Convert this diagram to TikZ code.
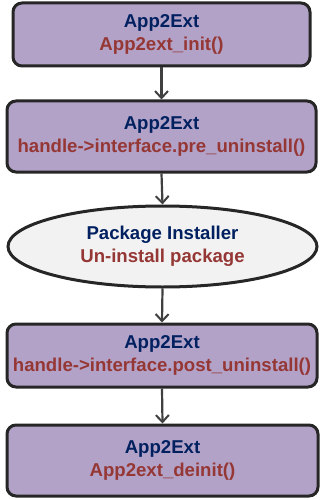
\documentclass[tikz,border=0pt]{standalone}
\usepackage{fontspec}
\setmainfont{Liberation Sans}
\usetikzlibrary{shapes.geometric,arrows.meta}
\definecolor{boxfill}{HTML}{B3A2C7}
\definecolor{ovalfill}{HTML}{F2F2F2}
\definecolor{edge}{HTML}{262626}
\definecolor{titleblue}{HTML}{002060}
\definecolor{callred}{HTML}{953735}
\definecolor{arrowgray}{HTML}{404040}
\tikzset{
  steptext/.style={inner sep=0pt, align=center, font=\bfseries\fontsize{18.6}{23}\selectfont},
  stepbox/.style={steptext, draw=edge, line width=3pt, fill=boxfill, rounded corners=9pt},
  oval/.style={steptext, ellipse, draw=edge, line width=3pt, fill=ovalfill},
  flow/.style={draw=arrowgray, line width=2.2pt, -{Straight Barb[length=7pt,width=13pt,line width=2pt]}}
}
\newcommand{\steptitle}[1]{\textcolor{titleblue}{#1}}
\newcommand{\stepcall}[1]{\textcolor{callred}{#1}}
\begin{document}
\begin{tikzpicture}[x=1pt,y=-1pt]
\useasboundingbox (0,0) rectangle (325,500);
\node[stepbox, minimum width=297pt, minimum height=63pt] (init) at (161.5,34.5)
  {\steptitle{App2Ext}\\\stepcall{App2ext\_init()}};
\node[stepbox, minimum width=309pt, minimum height=71pt] (pre) at (161.5,136.5)
  {\steptitle{App2Ext}\\\stepcall{handle->interface.pre\_uninstall()}};
\node[oval, minimum width=309pt, minimum height=81pt] (pkg) at (162.5,246.5)
  {\steptitle{Package Installer}\\\stepcall{Un-install package}};
\node[stepbox, minimum width=310pt, minimum height=63pt] (post) at (162,355.5)
  {\steptitle{App2Ext}\\\stepcall{handle->interface.post\_uninstall()}};
\node[stepbox, minimum width=311pt, minimum height=71pt] (deinit) at (162.5,460.5)
  {\steptitle{App2Ext}\\\stepcall{App2ext\_deinit()}};
\draw[flow] (init.south) -- (pre.north);
\draw[flow] (pre.south) -- (pkg.north);
\draw[flow] (pkg.south) -- (post.north);
\draw[flow] (post.south) -- (deinit.north);
\end{tikzpicture}
\end{document}
